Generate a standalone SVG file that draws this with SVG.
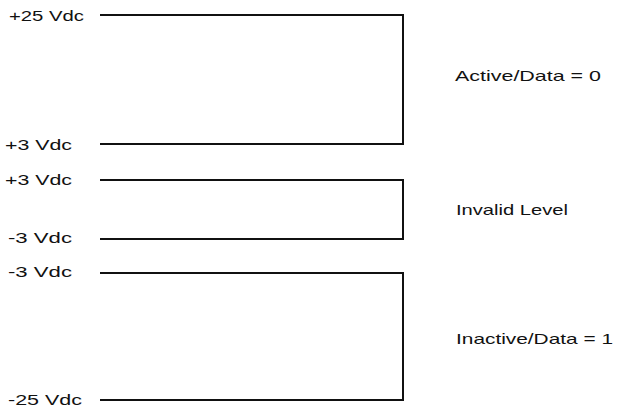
<svg xmlns="http://www.w3.org/2000/svg" width="618" height="410" viewBox="0 0 618 410">
<style>
text{font-family:"Liberation Sans",Arial,sans-serif;font-size:15px;fill:#111}
.br{fill:none;stroke:#111;stroke-width:2;stroke-linejoin:miter}
</style>
<rect width="618" height="410" fill="#fff"/>
<g id="labels-left">
<text x="9" y="21" textLength="75" lengthAdjust="spacingAndGlyphs">+25 Vdc</text>
<text x="5" y="150" textLength="67" lengthAdjust="spacingAndGlyphs">+3 Vdc</text>
<text x="5" y="185" textLength="67" lengthAdjust="spacingAndGlyphs">+3 Vdc</text>
<text x="8" y="243" textLength="64" lengthAdjust="spacingAndGlyphs">-3 Vdc</text>
<text x="8" y="277" textLength="64" lengthAdjust="spacingAndGlyphs">-3 Vdc</text>
<text x="8" y="405" textLength="74" lengthAdjust="spacingAndGlyphs">-25 Vdc</text>
</g>
<g id="connectors">
<path id="active" class="br" d="M100,15 H403 V144 H100"/>
<path id="invalid" class="br" d="M100,180 H403 V239 H100"/>
<path id="inactive" class="br" d="M100,273 H403 V400 H100"/>
</g>
<g id="labels-right">
<text x="455" y="81" textLength="146" lengthAdjust="spacingAndGlyphs">Active/Data = 0</text>
<text x="456" y="215" textLength="112" lengthAdjust="spacingAndGlyphs">Invalid Level</text>
<text x="456" y="344" textLength="157" lengthAdjust="spacingAndGlyphs">Inactive/Data = 1</text>
</g>
</svg>
